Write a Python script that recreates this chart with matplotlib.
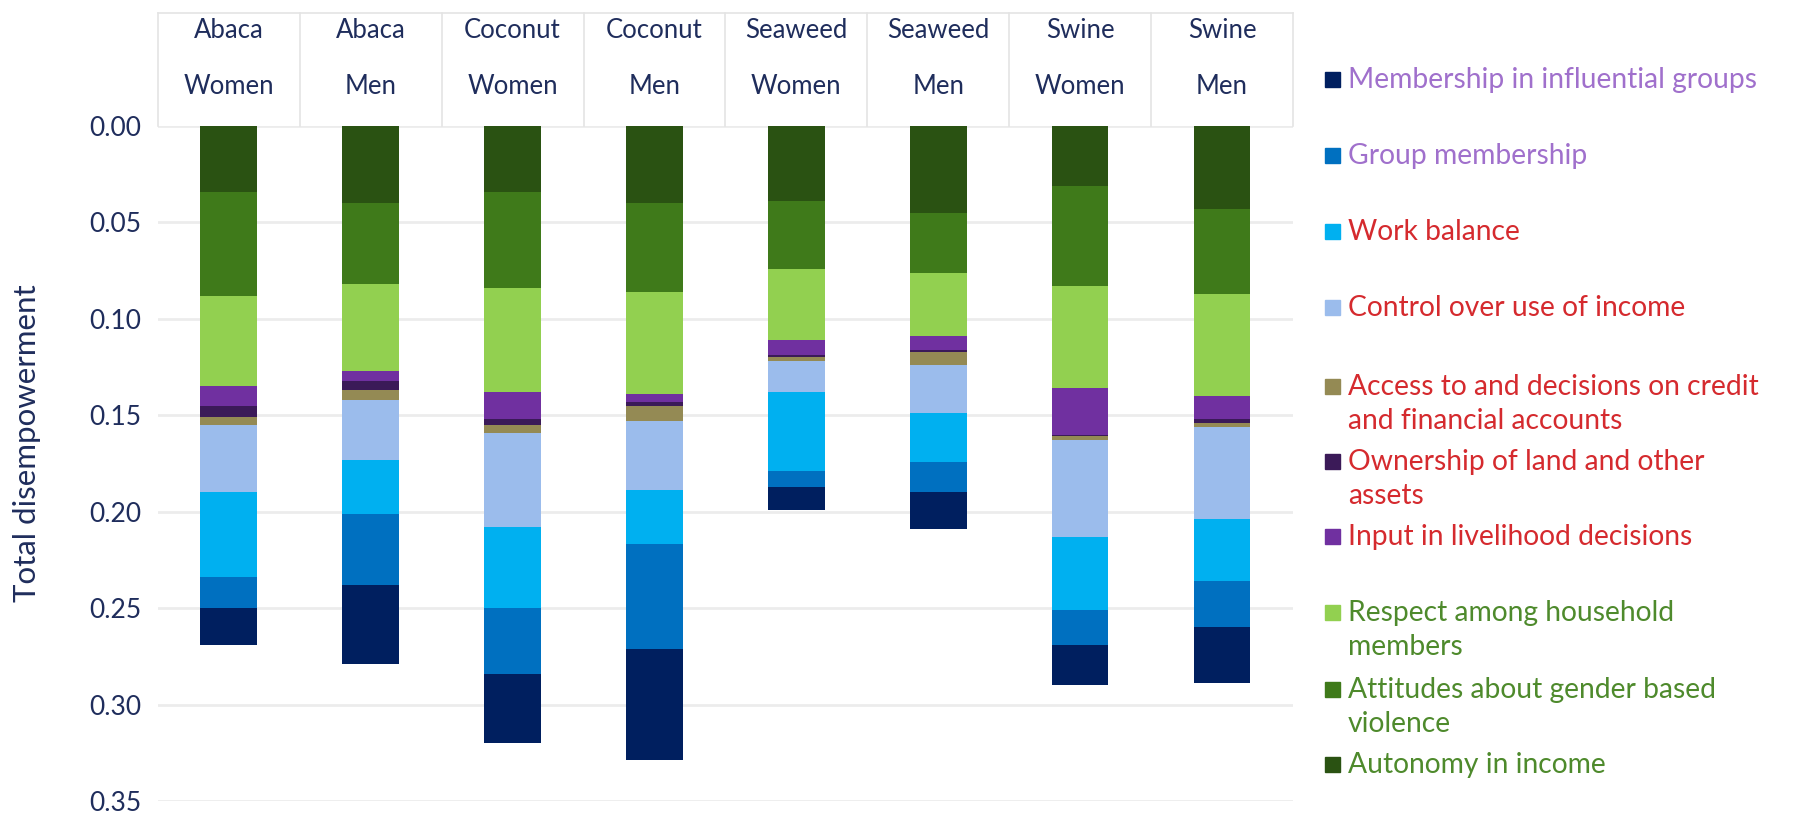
import numpy as np
import matplotlib.pyplot as plt
from matplotlib.patches import Rectangle
from matplotlib.transforms import blended_transform_factory

plt.rcParams['font.family'] = ['Lato', 'DejaVu Sans']

crops = ['Abaca', 'Abaca', 'Coconut', 'Coconut', 'Seaweed', 'Seaweed', 'Swine', 'Swine']
sexes = ['Women', 'Men', 'Women', 'Men', 'Women', 'Men', 'Women', 'Men']

# stacked from 0 downwards, in this order
autonomy   = [0.034, 0.040, 0.034, 0.040, 0.039, 0.045, 0.031, 0.043]
attitudes  = [0.054, 0.042, 0.050, 0.046, 0.035, 0.031, 0.052, 0.044]
respect    = [0.047, 0.045, 0.054, 0.053, 0.037, 0.033, 0.053, 0.053]
input_liv  = [0.010, 0.005, 0.014, 0.004, 0.008, 0.007, 0.024, 0.012]
ownership  = [0.006, 0.005, 0.003, 0.002, 0.001, 0.001, 0.001, 0.002]
credit     = [0.004, 0.005, 0.004, 0.008, 0.002, 0.007, 0.002, 0.002]
control    = [0.035, 0.031, 0.049, 0.036, 0.016, 0.025, 0.050, 0.048]
work       = [0.044, 0.028, 0.042, 0.028, 0.041, 0.025, 0.038, 0.032]
group      = [0.016, 0.037, 0.034, 0.054, 0.008, 0.016, 0.018, 0.024]
membership = [0.019, 0.041, 0.036, 0.058, 0.012, 0.019, 0.021, 0.029]

series = [
    ('Autonomy in income', autonomy, '#2a5212', '#4e8a2c'),
    ('Attitudes about gender based\nviolence', attitudes, '#3f7a1a', '#4e8a2c'),
    ('Respect among household\nmembers', respect, '#92d050', '#4e8a2c'),
    ('Input in livelihood decisions', input_liv, '#7030a0', '#d52a2e'),
    ('Ownership of land and other\nassets', ownership, '#3b1a58', '#d52a2e'),
    ('Access to and decisions on credit\nand financial accounts', credit, '#948a54', '#d52a2e'),
    ('Control over use of income', control, '#9bbcec', '#d52a2e'),
    ('Work balance', work, '#00b0f0', '#d52a2e'),
    ('Group membership', group, '#0070c0', '#a070cc'),
    ('Membership in influential groups', membership, '#001f5f', '#a070cc'),
]

navy = '#1f2d5c'
fig = plt.figure(figsize=(17.94, 8.13), dpi=100)
ax = fig.add_axes([0.088, 0.0148, 0.6327, 0.8302])

x = np.arange(len(crops))
bottom = np.zeros(len(crops))
for name, vals, col, tcol in series:
    ax.bar(x, vals, 0.4, bottom=bottom, color=col, edgecolor='none', zorder=3)
    bottom += np.array(vals)

ax.set_xlim(-0.5, len(crops) - 0.5)
ax.set_ylim(0.35, 0)
ax.set_yticks(np.arange(0, 0.351, 0.05))
ax.set_yticklabels(['%.2f' % t for t in np.arange(0, 0.351, 0.05)], fontsize=19, color=navy)
ax.tick_params(axis='y', length=0, pad=12)
ax.set_xticks([])
ax.grid(axis='y', color='#ececec', lw=2, zorder=0)
for s in ax.spines.values():
    s.set_visible(False)
ax.set_ylabel('Total disempowerment', fontsize=22.5, color=navy)
ax.yaxis.set_label_coords(-0.103, 0.53)

# header cells above the bars
trans = blended_transform_factory(ax.transData, ax.transAxes)
for i in range(len(crops)):
    ax.text(i, 1.141, crops[i], transform=trans, ha='center', va='center',
            fontsize=18.5, color=navy, clip_on=False)
    ax.text(i, 1.058, sexes[i], transform=trans, ha='center', va='center',
            fontsize=18.5, color=navy, clip_on=False)
for b in np.arange(-0.5, len(crops), 1.0):
    ax.plot([b, b], [1.0, 1.167], transform=trans, color='#e4e4e4', lw=1.2, clip_on=False)
ax.plot([-0.5, len(crops) - 0.5], [1.167, 1.167], transform=trans, color='#e4e4e4', lw=1.2, clip_on=False)

# legend, top to bottom
W, H = 1794.0, 813.0
legend_y = [80, 156, 232, 308, 387, 462, 537, 613, 690, 765]
for (name, vals, col, tcol), yp in zip(series[::-1], legend_y):
    fig.patches.append(Rectangle((1325 / W, 1 - (yp + 7) / H), 15 / W, 15 / H,
                                 transform=fig.transFigure, color=col))
    for k, line in enumerate(name.split('\n')):
        fig.text(1348 / W, 1 - (yp + 34 * k) / H, line, ha='left', va='center',
                 fontsize=20.3, color=tcol)

fig.savefig('out.png', dpi=100)
